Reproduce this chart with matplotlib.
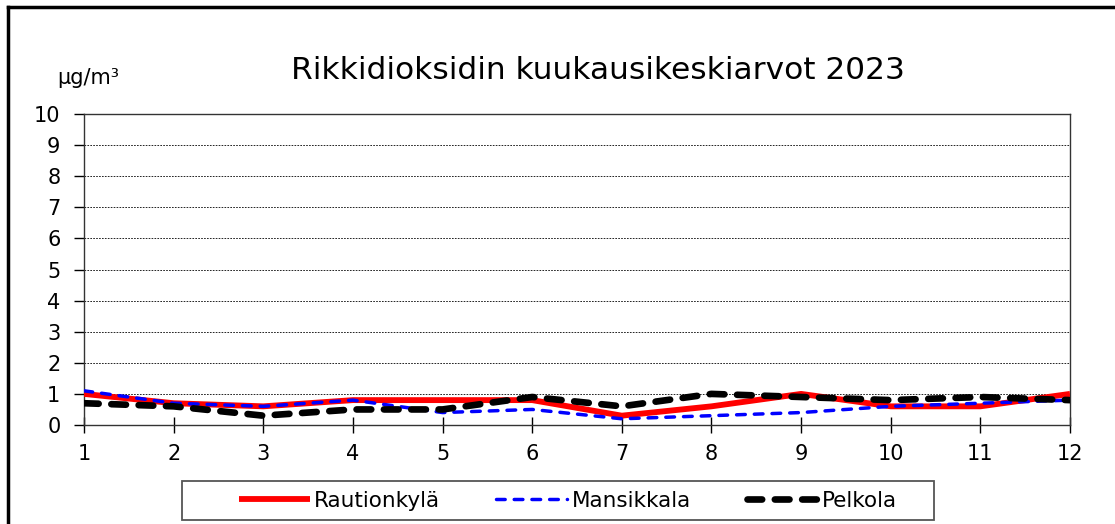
import matplotlib.pyplot as plt
from matplotlib.lines import Line2D
from matplotlib.patches import Rectangle

plt.rcParams['font.family'] = ['DejaVu Sans']

# kuukausikeskiarvot, µg/m³
months = [1, 2, 3, 4, 5, 6, 7, 8, 9, 10, 11, 12]
rautionkyla = [1.0, 0.7, 0.6, 0.8, 0.8, 0.8, 0.3, 0.6, 1.0, 0.6, 0.6, 1.0]
mansikkala = [1.1, 0.7, 0.6, 0.8, 0.4, 0.5, 0.2, 0.3, 0.4, 0.6, 0.7, 0.8]
pelkola = [0.7, 0.6, 0.3, 0.5, 0.5, 0.9, 0.6, 1.0, 0.9, 0.8, 0.9, 0.8]

W, H = 1115, 524
fig = plt.figure(figsize=(W / 100, H / 100), dpi=100)
ax = fig.add_axes([84 / W, 1 - 425 / H, (1070 - 84) / W, (425 - 114) / H])

# grid first so the lines sit on top
for y in range(1, 11):
    ax.axhline(y, color='black', lw=0.6, ls=(0, (2, 1.5)), zorder=1)

ax.plot(months, rautionkyla, color='red', lw=4.2, solid_capstyle='butt',
        label='Rautionkylä', zorder=3)
ax.plot(months, mansikkala, color='blue', lw=2.5, ls=(0, (2.5, 2.6)),
        dash_capstyle='round', label='Mansikkala', zorder=4)
ax.plot(months, pelkola, color='black', lw=4.8, ls=(0, (2.2, 1.9)),
        dash_capstyle='round', label='Pelkola', zorder=5)

ax.set_xlim(1, 12)
ax.set_ylim(0, 10)
ax.set_xticks(months)
ax.set_yticks(range(0, 11))
ax.tick_params(axis='x', direction='inout', length=12, width=1, labelsize=15, pad=8)
ax.tick_params(axis='y', direction='out', length=7, width=1, labelsize=15, pad=10)
for s in ax.spines.values():
    s.set_color('#333333')
    s.set_linewidth(1.0)

fig.text(598 / W, 1 - 79 / H, 'Rikkidioksidin kuukausikeskiarvot 2023',
         ha='center', va='baseline', fontsize=22.5)
fig.text(88 / W, 1 - 78 / H, 'µg/m³', ha='center', va='center', fontsize=15)

leg = ax.legend(loc='center', bbox_to_anchor=(568 / W, 1 - 501 / H),
                bbox_transform=fig.transFigure, ncol=3, frameon=False,
                fontsize=15.5, handlelength=3.3, handletextpad=0.2,
                columnspacing=2.6, borderpad=0.2)
fig.add_artist(Rectangle((182 / W, 1 - 520 / H), (934 - 182) / W, 39 / H,
                         transform=fig.transFigure, fill=False,
                         edgecolor='#555555', lw=1.3))

# outer frame (top and left only visible)
fig.add_artist(Line2D([8 / W, 1.0], [1 - 7 / H, 1 - 7 / H], color='black', lw=2.5,
                      transform=fig.transFigure))
fig.add_artist(Line2D([8 / W, 8 / W], [1 - 7 / H, 0.0], color='black', lw=2.5,
                      transform=fig.transFigure))

fig.savefig('out.png', dpi=100)
